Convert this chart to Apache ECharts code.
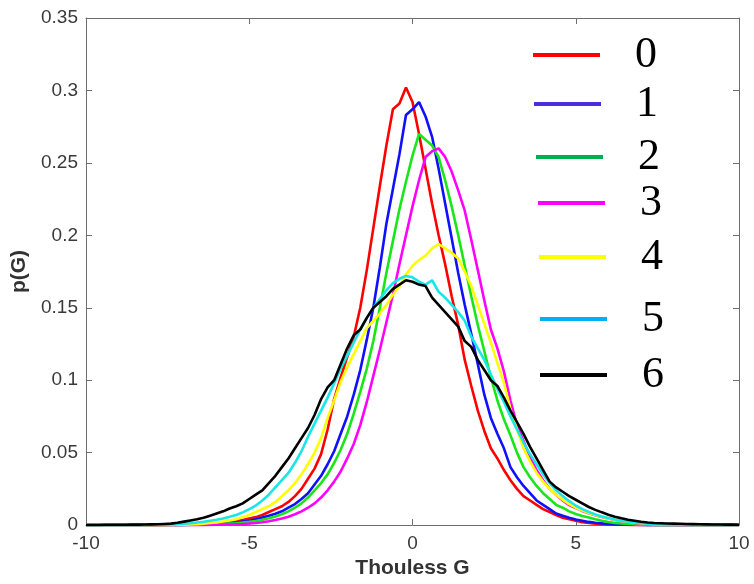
<!DOCTYPE html>
<html>
<head>
<meta charset="utf-8">
<script src="https://cdn.jsdelivr.net/npm/echarts@6.0.0/dist/echarts.min.js"></script>
<style>
  html, body { margin: 0; padding: 0; background: #ffffff; }
  #chart { width: 754px; height: 584px; }
</style>
</head>
<body>
<div id="chart"></div>
<script>
// Thouless conductance grid, bins of width 0.2 from -10 to 10
const G = [
  -10.0, -9.8, -9.6, -9.4, -9.2, -9.0, -8.8, -8.6, -8.4, -8.2,
  -8.0, -7.8, -7.6, -7.4, -7.2, -7.0, -6.8, -6.6, -6.4, -6.2,
  -6.0, -5.8, -5.6, -5.4, -5.2, -5.0, -4.8, -4.6, -4.4, -4.2,
  -4.0, -3.8, -3.6, -3.4, -3.2, -3.0, -2.8, -2.6, -2.4, -2.2,
  -2.0, -1.8, -1.6, -1.4, -1.2, -1.0, -0.8, -0.6, -0.4, -0.2,
  0.0, 0.2, 0.4, 0.6, 0.8, 1.0, 1.2, 1.4, 1.6, 1.8,
  2.0, 2.2, 2.4, 2.6, 2.8, 3.0, 3.2, 3.4, 3.6, 3.8,
  4.0, 4.2, 4.4, 4.6, 4.8, 5.0, 5.2, 5.4, 5.6, 5.8,
  6.0, 6.2, 6.4, 6.6, 6.8, 7.0, 7.2, 7.4, 7.6, 7.8,
  8.0, 8.2, 8.4, 8.6, 8.8, 9.0, 9.2, 9.4, 9.6, 9.8,
  10.0
];

// p(G) histograms, one per curve
const p0 = [
  0, 0, 0, 0, 0, 0, 0, 0, 0, 0,
  0, 0, 0.0001, 0.0001, 0.0001, 0.0002, 0.0003, 0.0004, 0.0006, 0.0008,
  0.001, 0.0015, 0.002, 0.0027, 0.0035, 0.0045, 0.0055, 0.007, 0.009, 0.011,
  0.013, 0.016, 0.020, 0.025, 0.032, 0.039, 0.049, 0.066, 0.087, 0.102,
  0.116, 0.130, 0.150, 0.176, 0.205, 0.234, 0.262, 0.287, 0.291, 0.302,
  0.292, 0.270, 0.246, 0.222, 0.200, 0.180, 0.158, 0.138, 0.114, 0.096,
  0.079, 0.065, 0.053, 0.046, 0.038, 0.031, 0.025, 0.020, 0.017, 0.014,
  0.011, 0.009, 0.007, 0.005, 0.004, 0.003, 0.002, 0.0015, 0.001, 0.0007,
  0.0005, 0.0003, 0.0002, 0.0001, 0, 0, 0, 0, 0, 0,
  0, 0, 0, 0, 0, 0, 0, 0, 0, 0,
  0
];
const p1 = [
  0, 0, 0, 0, 0, 0, 0, 0, 0, 0,
  0, 0, 0, 0.0001, 0.0001, 0.0001, 0.0002, 0.0003, 0.0004, 0.0005,
  0.0007, 0.001, 0.0013, 0.0018, 0.0024, 0.003, 0.004, 0.0052, 0.0065, 0.0078,
  0.0095, 0.012, 0.0145, 0.018, 0.022, 0.028, 0.034, 0.042, 0.051, 0.063,
  0.075, 0.090, 0.107, 0.128, 0.150, 0.178, 0.208, 0.232, 0.256, 0.283,
  0.287, 0.292, 0.282, 0.268, 0.246, 0.222, 0.198, 0.174, 0.152, 0.132,
  0.111, 0.090, 0.074, 0.063, 0.053, 0.040, 0.033, 0.027, 0.022, 0.017,
  0.014, 0.011, 0.008, 0.0065, 0.005, 0.0038, 0.003, 0.0022, 0.0016, 0.0012,
  0.0008, 0.0006, 0.0004, 0.0003, 0.0002, 0.0001, 0, 0, 0, 0,
  0, 0, 0, 0, 0, 0, 0, 0, 0, 0,
  0
];
const p2 = [
  0, 0, 0, 0, 0, 0, 0, 0, 0, 0,
  0, 0, 0, 0, 0, 0, 0.0001, 0.0002, 0.0003, 0.0004,
  0.0005, 0.0007, 0.001, 0.0013, 0.0017, 0.0022, 0.0028, 0.0037, 0.0047, 0.006,
  0.0075, 0.0095, 0.012, 0.015, 0.019, 0.024, 0.029, 0.035, 0.043, 0.052,
  0.063, 0.077, 0.092, 0.108, 0.127, 0.150, 0.174, 0.196, 0.218, 0.237,
  0.255, 0.270, 0.266, 0.262, 0.254, 0.238, 0.220, 0.200, 0.179, 0.158,
  0.138, 0.120, 0.102, 0.086, 0.073, 0.062, 0.050, 0.040, 0.033, 0.027,
  0.022, 0.018, 0.014, 0.012, 0.0095, 0.0077, 0.0063, 0.0052, 0.004, 0.003,
  0.0022, 0.0015, 0.0011, 0.0008, 0.0005, 0.0003, 0.0002, 0.0001, 0, 0,
  0, 0, 0, 0, 0, 0, 0, 0, 0, 0,
  0
];
const p3 = [
  0, 0, 0, 0, 0, 0, 0, 0, 0, 0,
  0, 0, 0, 0, 0, 0, 0, 0, 0, 0.0001,
  0.0002, 0.0003, 0.0004, 0.0006, 0.0008, 0.0011, 0.0015, 0.002, 0.0027, 0.0035,
  0.0045, 0.0058, 0.0075, 0.0095, 0.012, 0.015, 0.019, 0.024, 0.030, 0.037,
  0.046, 0.056, 0.069, 0.085, 0.103, 0.121, 0.140, 0.159, 0.180, 0.200,
  0.220, 0.238, 0.254, 0.258, 0.260, 0.254, 0.244, 0.231, 0.217, 0.197,
  0.176, 0.155, 0.135, 0.122, 0.106, 0.086, 0.069, 0.058, 0.047, 0.038,
  0.031, 0.025, 0.021, 0.017, 0.0138, 0.0117, 0.0098, 0.0082, 0.0068, 0.0056,
  0.0045, 0.0035, 0.0027, 0.002, 0.0015, 0.0011, 0.0008, 0.0006, 0.0004, 0.0003,
  0.0002, 0.0001, 0, 0, 0, 0, 0, 0, 0, 0,
  0
];
const p4 = [
  0, 0, 0, 0, 0, 0, 0, 0, 0, 0,
  0, 0, 0, 0.0001, 0.0002, 0.0003, 0.0005, 0.0007, 0.001, 0.0014,
  0.0019, 0.0025, 0.0032, 0.004, 0.0055, 0.007, 0.009, 0.011, 0.013, 0.016,
  0.020, 0.024, 0.029, 0.035, 0.042, 0.050, 0.060, 0.074, 0.086, 0.099,
  0.109, 0.118, 0.127, 0.136, 0.141, 0.146, 0.152, 0.159, 0.165, 0.173,
  0.179, 0.183, 0.186, 0.191, 0.194, 0.191, 0.188, 0.184, 0.175, 0.165,
  0.152, 0.139, 0.126, 0.112, 0.098, 0.080, 0.066, 0.053, 0.044, 0.036,
  0.030, 0.025, 0.021, 0.0175, 0.0145, 0.012, 0.010, 0.0083, 0.0069, 0.0057,
  0.0046, 0.0037, 0.0029, 0.0022, 0.0017, 0.0013, 0.001, 0.0007, 0.0005, 0.0004,
  0.0003, 0.0002, 0.0001, 0, 0, 0, 0, 0, 0, 0,
  0
];
const p5 = [
  0, 0, 0, 0, 0, 0, 0, 0, 0, 0,
  0.0001, 0.0002, 0.0003, 0.0005, 0.0007, 0.001, 0.0013, 0.0018, 0.0023, 0.003,
  0.0037, 0.0046, 0.0057, 0.007, 0.0088, 0.011, 0.0135, 0.017, 0.021, 0.026,
  0.031, 0.036, 0.043, 0.051, 0.061, 0.070, 0.079, 0.088, 0.098, 0.108,
  0.117, 0.126, 0.135, 0.143, 0.150, 0.156, 0.162, 0.167, 0.170, 0.172,
  0.171, 0.168, 0.166, 0.169, 0.161, 0.157, 0.152, 0.147, 0.141, 0.130,
  0.122, 0.114, 0.104, 0.094, 0.085, 0.075, 0.066, 0.057, 0.049, 0.042,
  0.035, 0.029, 0.024, 0.020, 0.0165, 0.0135, 0.011, 0.009, 0.0074, 0.006,
  0.0049, 0.0039, 0.0031, 0.0024, 0.0018, 0.0014, 0.001, 0.0008, 0.0006, 0.0004,
  0.0003, 0.0002, 0.0001, 0, 0, 0, 0, 0, 0, 0,
  0
];
const p6 = [
  0.0001, 0.0001, 0.0001, 0.0002, 0.0002, 0.0002, 0.0002, 0.0003, 0.0003, 0.0004,
  0.0005, 0.0006, 0.0008, 0.001, 0.0016, 0.0024, 0.0032, 0.004, 0.005, 0.0065,
  0.008, 0.0095, 0.0115, 0.013, 0.015, 0.018, 0.021, 0.024, 0.029, 0.034,
  0.040, 0.046, 0.053, 0.060, 0.067, 0.076, 0.087, 0.095, 0.100, 0.111,
  0.122, 0.131, 0.135, 0.143, 0.150, 0.154, 0.158, 0.163, 0.166, 0.169,
  0.168, 0.166, 0.165, 0.157, 0.152, 0.147, 0.142, 0.137, 0.127, 0.123,
  0.114, 0.107, 0.100, 0.096, 0.088, 0.079, 0.071, 0.063, 0.054, 0.046,
  0.038, 0.030, 0.026, 0.023, 0.020, 0.0175, 0.015, 0.0125, 0.0105, 0.0088,
  0.0072, 0.0058, 0.0047, 0.0037, 0.003, 0.0023, 0.0018, 0.0015, 0.0013, 0.0011,
  0.001, 0.0009, 0.0008, 0.0007, 0.0006, 0.0005, 0.0004, 0.0004, 0.0003, 0.0003,
  0.0002
];

const seriesNames = ['0', '1', '2', '3', '4', '5', '6'];
const seriesValues = [p0, p1, p2, p3, p4, p5, p6];
const lineColors = ['#ff0000', '#1010ff', '#19e619', '#ff00ff', '#ffff00', '#19e6e6', '#000000'];
const legendColors = ['#ff0000', '#4a2ee0', '#00b050', '#ff00ff', '#ffff00', '#00b0f0', '#000000'];

// Legend row placement (left edge of the swatch, vertical centre of the row)
const legendLeft = [533, 534, 536, 538, 539, 540, 540];
const legendMidY = [57, 106, 159, 205, 259, 321, 377];

const chart = echarts.init(document.getElementById('chart'), null, { renderer: 'canvas' });

const axisGray = '#6e6e6e';
const labelStyle = { color: '#3a3a3a', fontSize: 19, fontFamily: 'Liberation Sans, Arial, sans-serif' };
const nameStyle = { color: '#333333', fontSize: 21, fontWeight: 'bold', fontFamily: 'Liberation Sans, Arial, sans-serif' };

const legends = seriesNames.map((name, i) => ({
  show: true,
  left: legendLeft[i],
  top: legendMidY[i] - 24,
  padding: 0,
  selectedMode: false,
  itemWidth: 67,
  itemHeight: 4,
  data: [{ name: name, icon: 'rect', itemStyle: { color: legendColors[i], borderWidth: 0 } }],
  textStyle: {
    color: '#000000',
    fontSize: 44,
    fontFamily: 'Liberation Serif, Times New Roman, serif',
    padding: [0, 0, 0, 30]
  }
}));

const series = seriesNames.map((name, i) => ({
  name: name,
  type: 'line',
  xAxisIndex: 0,
  yAxisIndex: 0,
  showSymbol: false,
  symbol: 'none',
  smooth: false,
  animation: false,
  lineStyle: { color: lineColors[i], width: 2.6 },
  itemStyle: { color: lineColors[i] },
  data: G.map((g, k) => [g, seriesValues[i][k]])
}));

const option = {
  backgroundColor: '#ffffff',
  animation: false,
  grid: { left: 86, right: 15, top: 18, bottom: 52, containLabel: false },
  legend: legends,
  xAxis: [
    {
      type: 'value', position: 'bottom', min: -10, max: 10, interval: 5,
      name: 'Thouless G', nameLocation: 'middle', nameGap: 31,
      nameTextStyle: nameStyle,
      axisLine: { show: true, onZero: false, lineStyle: { color: axisGray, width: 1 } },
      axisTick: { show: true, inside: true, length: 6, lineStyle: { color: axisGray } },
      axisLabel: Object.assign({ margin: 9 }, labelStyle),
      splitLine: { show: false }
    },
    {
      type: 'value', position: 'top', min: -10, max: 10, interval: 5,
      axisLine: { show: true, onZero: false, lineStyle: { color: axisGray, width: 1 } },
      axisTick: { show: true, inside: true, length: 6, lineStyle: { color: axisGray } },
      axisLabel: { show: false },
      splitLine: { show: false }
    }
  ],
  yAxis: [
    {
      type: 'value', position: 'left', min: 0, max: 0.35, interval: 0.05,
      name: 'p(G)', nameLocation: 'middle', nameGap: 56,
      nameTextStyle: nameStyle,
      axisLine: { show: true, onZero: false, lineStyle: { color: axisGray, width: 1 } },
      axisTick: { show: true, inside: true, length: 6, lineStyle: { color: axisGray } },
      axisLabel: Object.assign({ margin: 8 }, labelStyle),
      splitLine: { show: false }
    },
    {
      type: 'value', position: 'right', min: 0, max: 0.35, interval: 0.05,
      axisLine: { show: true, onZero: false, lineStyle: { color: axisGray, width: 1 } },
      axisTick: { show: true, inside: true, length: 6, lineStyle: { color: axisGray } },
      axisLabel: { show: false },
      splitLine: { show: false }
    }
  ],
  series: series
};

chart.setOption(option);
</script>
</body>
</html>
